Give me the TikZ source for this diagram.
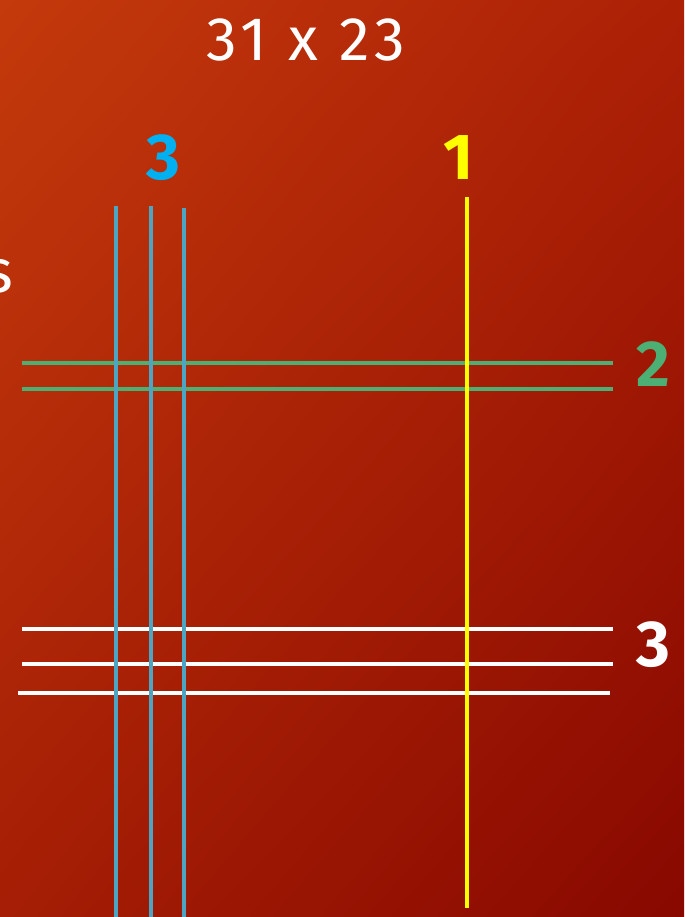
\documentclass[tikz,border=0pt]{standalone}
\usepackage{fontspec}
\setmainfont{Fira Sans}
\usetikzlibrary{shadings}

\definecolor{bgtl}{RGB}{196,58,12}
\definecolor{bgtr}{RGB}{172,32,6}
\definecolor{bgbl}{RGB}{165,30,5}
\definecolor{bgbr}{RGB}{136,8,0}
\definecolor{colblue}{RGB}{75,165,195}
\definecolor{numblue}{RGB}{0,176,240}
\definecolor{colgreen}{RGB}{76,175,115}
\definecolor{colyellow}{RGB}{255,255,0}

\tikzset{
  big/.style={font=\fontsize{35}{40}\selectfont\addfontfeatures{LetterSpace=8}},
  bignum/.style={font=\bfseries\fontsize{37}{42}\selectfont},
  grid line/.style={line width=2.5pt}
}

\begin{document}
\begin{tikzpicture}[x=0.02cm,y=-0.02cm]
\useasboundingbox (0,0) rectangle (684,917);
\shade[upper left=bgtl, upper right=bgtr, lower left=bgbl, lower right=bgbr] (0,0) rectangle (684,917);

\node[big, text=white] (title) at (306,40) {31 x 23};
\node[big, text=white, anchor=base east, inner sep=0pt] (word) at (14,292) {s};

\node[bignum, text=numblue] (cols) at (163,158) {3};
\node[bignum, text=colyellow] (colone) at (459,158) {1};
\node[bignum, text=colgreen] (rows) at (653,364) {2};
\node[bignum, text=white] (rowsw) at (653,645) {3};

% horizontal lines
\foreach \y in {363, 389}
  \draw[grid line, colgreen] (22,\y) -- (613,\y);
\draw[grid line, white] (22,629) -- (613,629);
\draw[grid line, white] (22,664) -- (613,664);
\draw[grid line, white] (18,693) -- (610,693);

% vertical lines
\foreach \x/\t in {116/206, 151/206, 184/208}
  \draw[grid line, colblue] (\x,\t) -- (\x,917);
\draw[line width=2.7pt, colyellow] (467,197) -- (467,908);
\end{tikzpicture}
\end{document}
